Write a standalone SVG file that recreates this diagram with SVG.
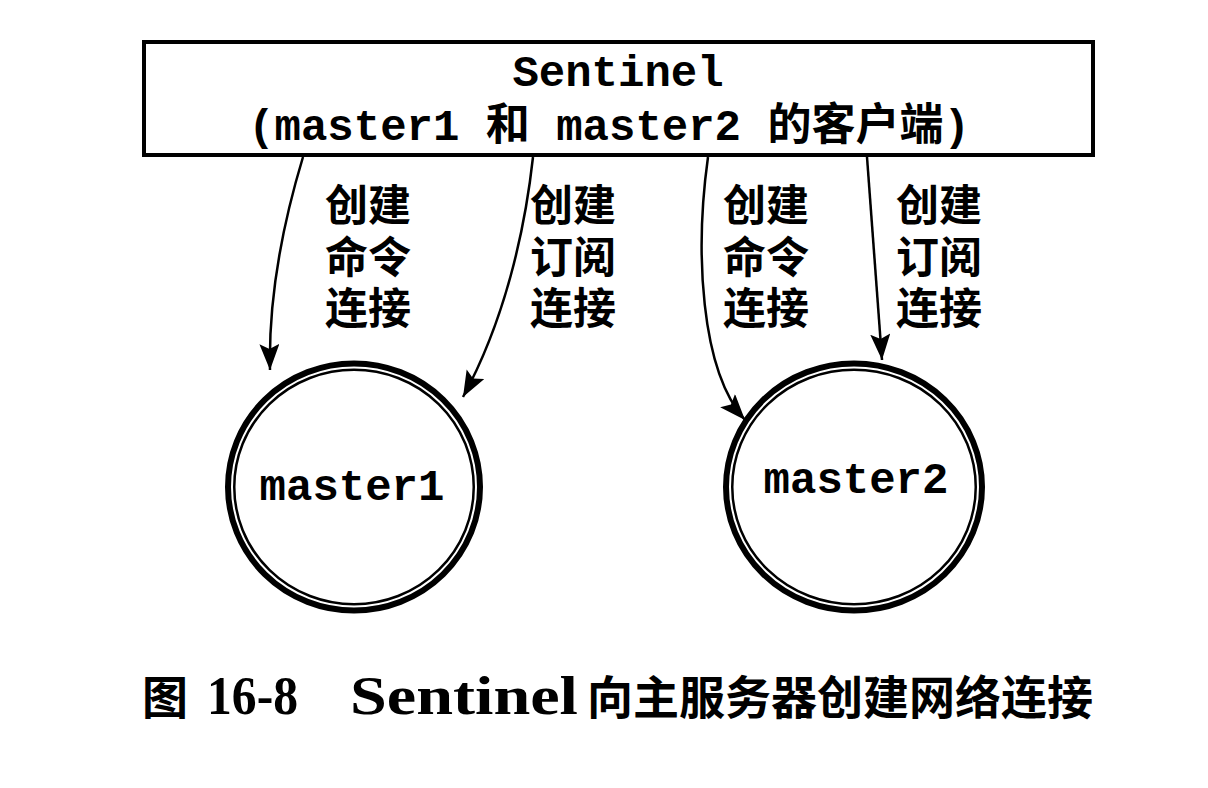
<svg xmlns="http://www.w3.org/2000/svg" width="1208" height="788" viewBox="0 0 1208 788">
<defs>
<style>
.mono{font-family:"Liberation Mono","Noto Sans CJK SC",monospace;font-weight:bold;font-size:44px;fill:#000}
.lbl{font-family:"Noto Sans CJK SC",sans-serif;font-weight:bold;font-size:43px;fill:#000}
.cap{font-family:"Noto Sans CJK SC",sans-serif;font-weight:bold;font-size:46px;fill:#000}
.capl{font-family:"Liberation Serif",serif;font-weight:bold;font-size:54px;fill:#000}
.edge{fill:none;stroke:#000;stroke-width:2.5}
.outer{fill:none;stroke:#000;stroke-width:6}
.inner{fill:none;stroke:#000;stroke-width:2.5}
</style>
<marker id="arr" markerUnits="userSpaceOnUse" markerWidth="30" markerHeight="24" refX="26" refY="10" orient="auto">
<path d="M0,0 L26,10 L0,20 L5,10 z" fill="#000"/>
</marker>
</defs>
<rect width="1208" height="788" fill="#fff"/>
<g id="sentinel">
<rect x="144" y="42" width="949" height="113" fill="#fff" stroke="#000" stroke-width="4"/>
<text class="mono" x="618" y="86" text-anchor="middle">Sentinel</text>
<text class="mono" x="609" y="140" text-anchor="middle">(master1 和 master2 的客户端)</text>
</g>
<g id="connectors">
<path class="edge" d="M303,157 C290,200 268,280 270,370" marker-end="url(#arr)"/>
<path class="edge" d="M533,157 C525,230 505,320 463,397" marker-end="url(#arr)"/>
<path class="edge" d="M708,157 C695,250 700,370 745,420" marker-end="url(#arr)"/>
<path class="edge" d="M867,157 C873,230 878,300 882,360" marker-end="url(#arr)"/>
</g>
<g id="labels">
<text class="lbl"><tspan x="325" y="221">创建</tspan><tspan x="325" y="273">命令</tspan><tspan x="325" y="324">连接</tspan></text>
<text class="lbl"><tspan x="530" y="221">创建</tspan><tspan x="530" y="273">订阅</tspan><tspan x="530" y="324">连接</tspan></text>
<text class="lbl"><tspan x="723" y="221">创建</tspan><tspan x="723" y="273">命令</tspan><tspan x="723" y="324">连接</tspan></text>
<text class="lbl"><tspan x="896" y="221">创建</tspan><tspan x="896" y="273">订阅</tspan><tspan x="896" y="324">连接</tspan></text>
</g>
<g id="master1">
<ellipse class="outer" cx="354" cy="487" rx="126" ry="123.5"/>
<ellipse class="inner" cx="354" cy="487" rx="119.75" ry="117.25"/>
<text class="mono" x="352" y="500" text-anchor="middle">master1</text>
</g>
<g id="master2">
<ellipse class="outer" cx="854" cy="487" rx="128" ry="123.5"/>
<ellipse class="inner" cx="854" cy="487" rx="121.75" ry="117.25"/>
<text class="mono" x="856" y="493" text-anchor="middle">master2</text>
</g>
<g id="caption">
<text class="cap" x="142" y="714">图</text>
<text class="capl" x="207" y="714" textLength="91" lengthAdjust="spacingAndGlyphs">16-8</text>
<text class="capl" x="350" y="714" textLength="228" lengthAdjust="spacingAndGlyphs">Sentinel</text>
<text class="cap" x="587" y="714">向主服务器创建网络连接</text>
</g>
</svg>
